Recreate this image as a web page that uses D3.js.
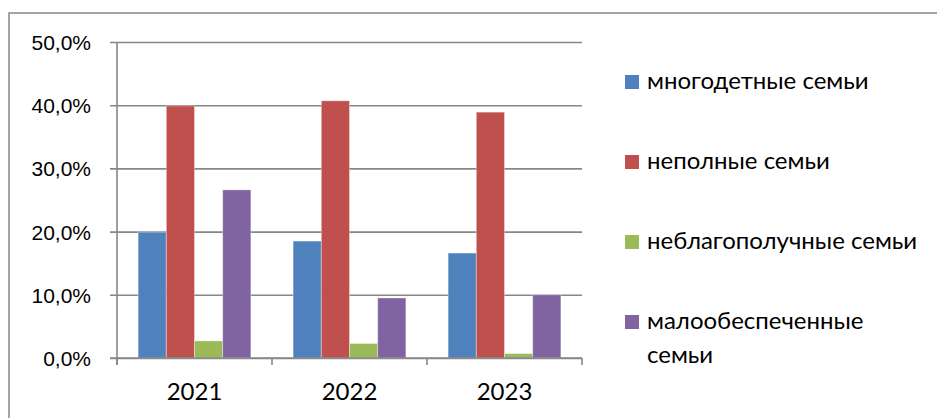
<!DOCTYPE html>
<html>
<head>
<meta charset="utf-8">
<script src="https://cdn.jsdelivr.net/npm/d3@7/dist/d3.min.js"></script>
<style>
  html, body { margin: 0; padding: 0; background: #fff; }
  svg { display: block; font-family: Lato, "Noto Sans", sans-serif; }
</style>
</head>
<body>
<svg id="chart" width="937" height="418"></svg>
<script>
// Years on the x axis
var years = ["2021", "2022", "2023"];

// Series names as shown in the legend
var seriesNames = ["многодетные семьи", "неполные семьи", "неблагополучные семьи", "малообеспеченные семьи"];

// Share of families, percent, one array per series (2021, 2022, 2023)
var manyChildren = [19.9, 18.5, 16.6];
var singleParent = [39.9, 40.7, 38.9];
var dysfunctional = [2.7, 2.3, 0.7];
var lowIncome = [26.6, 9.5, 10.0];

// Y axis tick values
var yTicks = [0, 10, 20, 30, 40, 50];

var seriesValues = [manyChildren, singleParent, dysfunctional, lowIncome];
var colors = ["#4F81BD", "#C0504D", "#9BBB59", "#8064A2"];

var svg = d3.select("#chart");

// Outer chart frame (runs off the right and bottom edges)
svg.append("rect")
  .attr("x", 9).attr("y", 13)
  .attr("width", 940).attr("height", 420)
  .attr("fill", "none")
  .attr("stroke", "#868686")
  .attr("stroke-width", 1.5);

// Plot area edges
var plotLeft = 117, plotRight = 582, plotTop = 42, plotBottom = 358;

var y = d3.scaleLinear().domain([0, 50]).range([plotBottom, plotTop]);
var x0 = d3.scaleBand().domain(years).range([plotLeft, plotRight]);
var x1 = d3.scaleBand().domain(d3.range(seriesNames.length))
  .range([0, x0.bandwidth()]).paddingInner(0).paddingOuter(0.75);

var fmt = function (d) { return d3.format(".1f")(d).replace(".", ",") + "%"; };

// Horizontal gridlines with short ticks left of the axis
var yAxis = d3.axisLeft(y).tickValues(yTicks).tickFormat(fmt)
  .tickSize(-(plotRight - plotLeft)).tickSizeOuter(0).tickPadding(0);

var gy = svg.append("g").attr("transform", "translate(" + plotLeft + ",0)").call(yAxis);
gy.select(".domain").remove();
gy.selectAll(".tick line")
  .attr("x1", -7)
  .attr("stroke", "#878787")
  .attr("stroke-width", 1.6);
gy.selectAll(".tick text")
  .attr("x", -26)
  .attr("dy", "0.36em")
  .attr("fill", "#000")
  .style("font-size", "21px");

// Vertical axis line
svg.append("line")
  .attr("x1", plotLeft).attr("x2", plotLeft)
  .attr("y1", plotTop).attr("y2", plotBottom + 7)
  .attr("stroke", "#878787").attr("stroke-width", 1.6);

// Bars
var groups = svg.append("g").selectAll("g")
  .data(years)
  .join("g")
  .attr("transform", function (d) { return "translate(" + x0(d) + ",0)"; });

groups.selectAll("rect")
  .data(function (d, i) {
    return seriesValues.map(function (vals, s) { return { s: s, v: vals[i] }; });
  })
  .join("rect")
  .attr("x", function (d) { return x1(d.s); })
  .attr("width", x1.bandwidth())
  .attr("y", function (d) { return y(d.v); })
  .attr("height", function (d) { return y(0) - y(d.v); })
  .attr("fill", function (d) { return colors[d.s]; })
  .attr("stroke", "rgba(255,255,255,0.35)")
  .attr("stroke-width", 1);

// X axis with ticks between categories
var xAxisLine = svg.append("g");
xAxisLine.append("line")
  .attr("x1", plotLeft - 7).attr("x2", plotRight)
  .attr("y1", plotBottom).attr("y2", plotBottom)
  .attr("stroke", "#878787").attr("stroke-width", 1.6);
xAxisLine.selectAll(".sep")
  .data(years.concat(["end"]))
  .join("line")
  .attr("x1", function (d, i) { return plotLeft + i * x0.step(); })
  .attr("x2", function (d, i) { return plotLeft + i * x0.step(); })
  .attr("y1", plotBottom).attr("y2", plotBottom + 7)
  .attr("stroke", "#878787").attr("stroke-width", 1.6);

svg.append("g").selectAll("text")
  .data(years)
  .join("text")
  .attr("x", function (d) { return x0(d) + x0.bandwidth() / 2; })
  .attr("y", 400)
  .attr("text-anchor", "middle")
  .style("font-size", "24px")
  .text(function (d) { return d; });

// Legend
var legendRows = [
  { s: 0, lines: ["многодетные семьи"] },
  { s: 1, lines: ["неполные семьи"] },
  { s: 2, lines: ["неблагополучные семьи"] },
  { s: 3, lines: ["малообеспеченные", "семьи"] }
];

var legend = svg.append("g").selectAll("g")
  .data(legendRows)
  .join("g")
  .attr("transform", function (d, i) { return "translate(625," + (89 + i * 80) + ")"; });

legend.append("rect")
  .attr("x", 0).attr("y", -14)
  .attr("width", 14).attr("height", 14)
  .attr("fill", function (d) { return colors[d.s]; });

legend.append("text")
  .attr("x", 22)
  .attr("y", 0)
  .style("font-size", "24px")
  .selectAll("tspan")
  .data(function (d) { return d.lines; })
  .join("tspan")
  .attr("x", 22)
  .attr("dy", function (d, i) { return i === 0 ? 0 : 34; })
  .text(function (d) { return d; });
</script>
</body>
</html>
